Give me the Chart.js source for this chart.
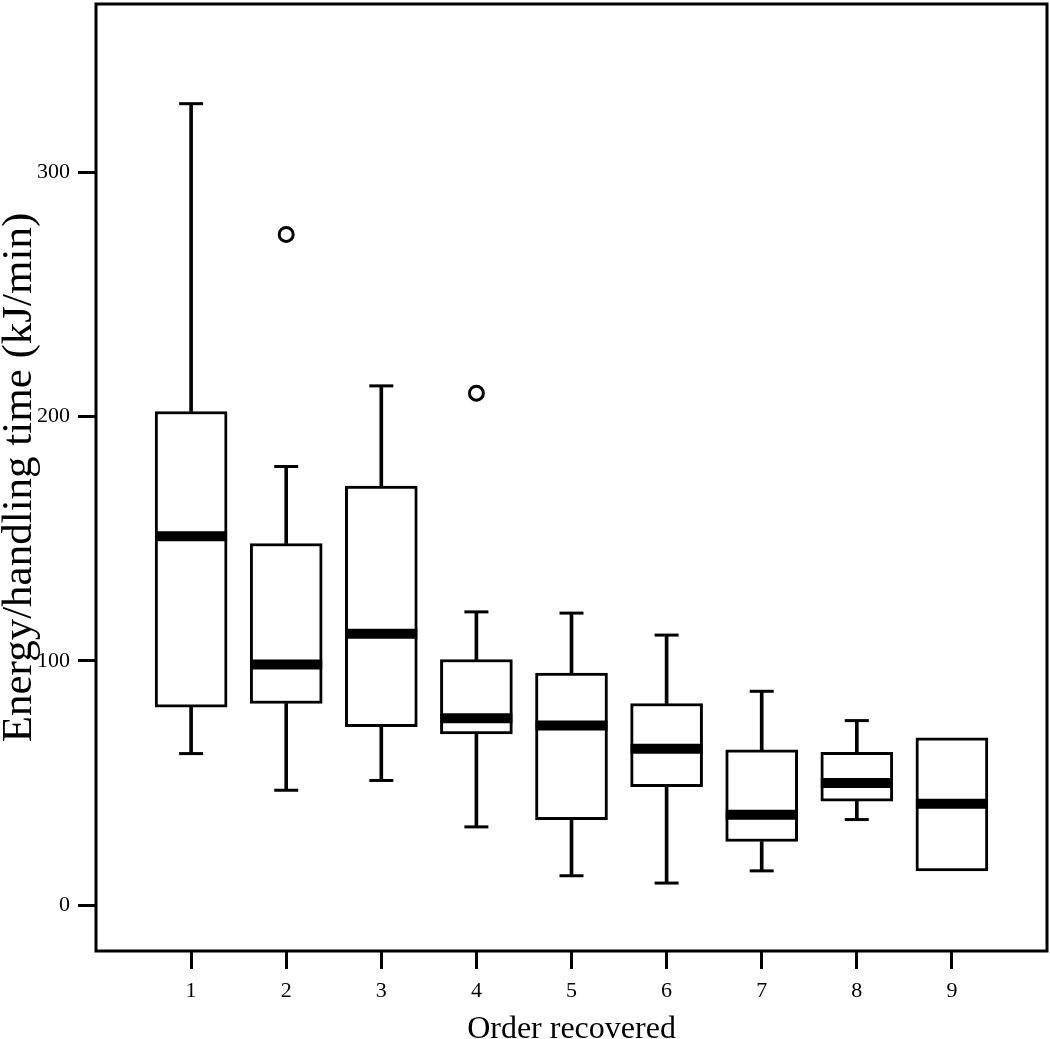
<!DOCTYPE html>
<html>
<head>
<meta charset="utf-8">
<title>Energy/handling time by order recovered</title>
<script src="https://cdn.jsdelivr.net/npm/chart.js@4.4.1/dist/chart.umd.min.js"></script>
<style>
  html, body { margin: 0; padding: 0; background: #fff; }
  canvas { display: block; }
</style>
</head>
<body>
<canvas id="boxChart" width="1050" height="1039"></canvas>
<script>
// values
const categories = [1, 2, 3, 4, 5, 6, 7, 8, 9];
const whiskerLow  = [62, 47, 51, 32, 12, 9, 14, 35, 14];
const q1          = [81, 82.5, 73, 70, 35, 48.5, 26, 42.5, 14];
const median      = [151, 98.5, 111, 76.5, 73.5, 64, 37, 50, 41.5];
const q3          = [202, 148, 171.5, 100.5, 95, 82.5, 63.5, 62.5, 68.5];
const whiskerHigh = [328, 179.5, 212.5, 120, 119.5, 110.5, 87.5, 75.5, 68.5];
const outlierCats = [2, 4];
const outlierVals = [274.5, 209.5];
const yTicks = [0, 100, 200, 300];

const FONT = '"Liberation Serif", "Times New Roman", serif';

const pts = (vals) => categories.map((c, i) => ({ x: c, y: vals[i] }));
// floating range per category, skipped when it has no length
const ranges = (lo, hi) => categories.map((c, i) => ({ x: c, y: lo[i] === hi[i] ? null : [lo[i], hi[i]] }));

// whisker caps only where the whisker sticks out of the box
const capPoints = [];
categories.forEach((c, i) => {
  if (whiskerLow[i] < q1[i]) capPoints.push({ x: c, y: whiskerLow[i] });
  if (whiskerHigh[i] > q3[i]) capPoints.push({ x: c, y: whiskerHigh[i] });
});

// frame round the plot area
const framePlugin = {
  id: 'frame',
  afterDatasetsDraw(chart) {
    const { ctx, chartArea: a } = chart;
    ctx.save();
    ctx.strokeStyle = '#000';
    ctx.lineWidth = 3;
    ctx.strokeRect(a.left, a.top, a.right - a.left, a.bottom - a.top);
    ctx.restore();
  }
};

const ctx = document.getElementById('boxChart').getContext('2d');

new Chart(ctx, {
  type: 'bar',
  data: {
    datasets: [
      {
        type: 'line',
        label: 'median',
        data: pts(median),
        showLine: false,
        pointStyle: 'line',
        pointRadius: 36,
        pointBorderWidth: 10,
        pointBorderColor: '#000',
        order: 0
      },
      {
        type: 'line',
        label: 'outliers',
        data: outlierCats.map((c, i) => ({ x: c, y: outlierVals[i] })),
        showLine: false,
        pointStyle: 'circle',
        pointRadius: 7,
        pointBorderWidth: 3,
        pointBorderColor: '#000',
        pointBackgroundColor: '#fff',
        order: 0
      },
      {
        label: 'box',
        data: ranges(q1, q3),
        backgroundColor: '#fff',
        borderColor: '#000',
        borderWidth: 3,
        borderSkipped: false,
        barThickness: 72,
        grouped: false,
        order: 1
      },
      {
        label: 'lower whisker',
        data: ranges(whiskerLow, q1),
        backgroundColor: '#000',
        borderWidth: 0,
        barThickness: 3,
        grouped: false,
        order: 2
      },
      {
        label: 'upper whisker',
        data: ranges(q3, whiskerHigh),
        backgroundColor: '#000',
        borderWidth: 0,
        barThickness: 3,
        grouped: false,
        order: 2
      },
      {
        type: 'line',
        label: 'caps',
        data: capPoints,
        showLine: false,
        pointStyle: 'line',
        pointRadius: 12,
        pointBorderWidth: 3,
        pointBorderColor: '#000',
        order: 2
      }
    ]
  },
  options: {
    responsive: false,
    animation: false,
    events: [],
    layout: { autoPadding: false, padding: { top: 4, right: 3, left: 0, bottom: 0 } },
    plugins: {
      legend: { display: false },
      tooltip: { enabled: false }
    },
    scales: {
      x: {
        type: 'linear',
        min: 0,
        max: 10,
        offset: false,
        afterBuildTicks: (scale) => { scale.ticks = categories.map(v => ({ value: v })); },
        afterFit: (scale) => {
          scale.height = 88;
          scale.paddingLeft = 0;
          scale.paddingRight = 0;
        },
        grid: { display: true, drawOnChartArea: false, offset: false, tickLength: 18, tickWidth: 3, tickColor: '#000' },
        border: { display: false },
        ticks: { color: '#000', padding: 9, maxRotation: 0, font: { family: FONT, size: 22 } },
        title: {
          display: true,
          text: 'Order recovered',
          color: '#000',
          padding: 0,
          font: { family: FONT, size: 32, lineHeight: 0.6 }
        }
      },
      y: {
        type: 'linear',
        min: -18.8,
        max: 368.8,
        afterBuildTicks: (scale) => { scale.ticks = yTicks.map(v => ({ value: v })); },
        afterFit: (scale) => {
          scale.width = 96;
          scale.paddingTop = 0;
          scale.paddingBottom = 0;
        },
        grid: { display: true, drawOnChartArea: false, tickLength: 18, tickWidth: 3, tickColor: '#000' },
        border: { display: false },
        ticks: { color: '#000', padding: 8, font: { family: FONT, size: 22 } },
        title: {
          display: true,
          text: 'Energy/handling time (kJ/min)',
          color: '#000',
          padding: 0,
          font: { family: FONT, size: 43, lineHeight: 0.9 }
        }
      }
    }
  },
  plugins: [framePlugin]
});
</script>
</body>
</html>
